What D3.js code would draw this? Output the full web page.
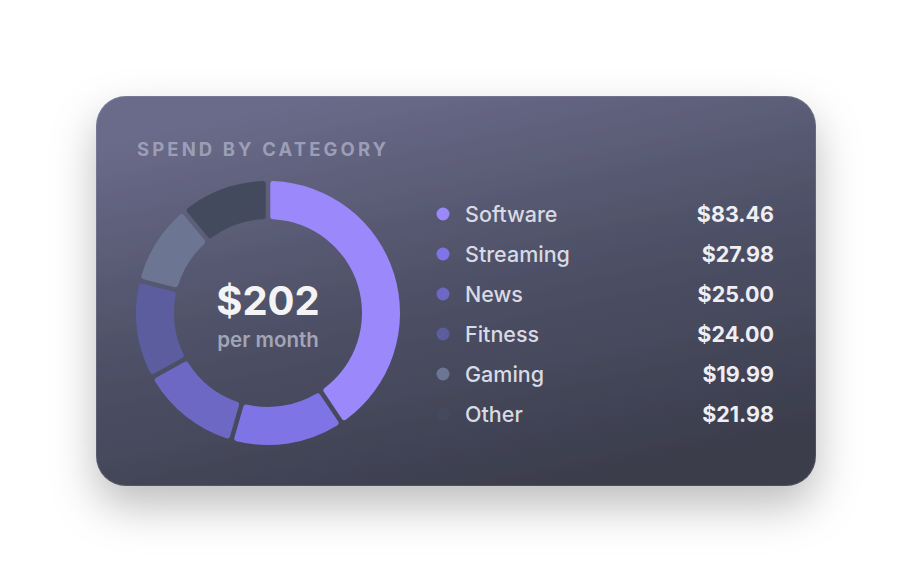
<!DOCTYPE html>
<html><head><meta charset="utf-8">
<script src="https://cdn.jsdelivr.net/npm/d3@7"></script>
<style>html,body{margin:0;padding:0;background:#ffffff;}svg{display:block;font-family:Inter,"Open Sans",sans-serif;}</style>
</head><body>
<svg id="chart" width="912" height="582"></svg>
<script>
const title = "SPEND BY CATEGORY";
const categories = ["Software","Streaming","News","Fitness","Gaming","Other"];
const values = [83.46, 27.98, 25.00, 24.00, 19.99, 21.98];
const colors = ["#9b88fa","#7f74e6","#6d68c3","#5c5d9f","#6c7693","#434a5d"];
const centerLabel = "$202";
const centerSub = "per month";

const svg = d3.select("#chart");
const defs = svg.append("defs");
const grad = defs.append("linearGradient").attr("id","cardGrad")
  .attr("x1","0.3").attr("y1","0").attr("x2","0.7").attr("y2","1");
grad.append("stop").attr("offset","0").attr("stop-color","#6a6b8a");
grad.append("stop").attr("offset","0.45").attr("stop-color","#505269");
grad.append("stop").attr("offset","1").attr("stop-color","#3a3c4b");
const f = defs.append("filter").attr("id","shadow").attr("x","-30%").attr("y","-30%").attr("width","160%").attr("height","190%");
f.append("feDropShadow").attr("dx",0).attr("dy",20).attr("stdDeviation",22).attr("flood-color","#000").attr("flood-opacity",0.26);

const card = {x:96, y:96, w:720, h:390, r:30};
svg.append("rect").attr("x",card.x).attr("y",card.y).attr("width",card.w).attr("height",card.h)
  .attr("rx",card.r).attr("fill","url(#cardGrad)").attr("filter","url(#shadow)");
svg.append("rect").attr("x",card.x+0.5).attr("y",card.y+0.5).attr("width",card.w-1).attr("height",card.h-1)
  .attr("rx",card.r).attr("fill","none").attr("stroke","rgba(255,255,255,0.10)");

svg.append("text").attr("x",137).attr("y",156).text(title)
  .attr("fill","#9c9eb5").attr("font-size",18.5).attr("font-weight",700).attr("letter-spacing",3.1);

// donut
const cx = 268, cy = 313;
const pie = d3.pie().sort(null).value(d=>d).padAngle(0.028);
const arc = d3.arc().innerRadius(94).outerRadius(132).cornerRadius(3);
const g = svg.append("g").attr("transform",`translate(${cx},${cy})`);
g.selectAll("path").data(pie(values)).join("path")
  .attr("d",arc).attr("fill",(d,i)=>colors[i]);

g.append("text").attr("text-anchor","middle").attr("y",2).text(centerLabel)
  .attr("fill","#f4f4f7").attr("font-size",40).attr("font-weight",700);
g.append("text").attr("text-anchor","middle").attr("y",34).text(centerSub)
  .attr("fill","#a3a5b7").attr("font-size",20.5).attr("font-weight",600);

// legend
const y = d3.scalePoint().domain(categories).range([214,414]);
const lg = svg.append("g");
const rows = lg.selectAll("g").data(categories).join("g")
  .attr("transform",d=>`translate(0,${y(d)})`);
rows.append("circle").attr("cx",443).attr("cy",0).attr("r",6.5).attr("fill",(d,i)=>colors[i]);
rows.append("text").attr("x",465).attr("dy","0.35em").text(d=>d)
  .attr("fill","#d9dae3").attr("font-size",21.5).attr("font-weight",500);
rows.append("text").attr("x",774).attr("dy","0.35em").attr("text-anchor","end")
  .text((d,i)=>"$"+values[i].toFixed(2))
  .attr("fill","#eeeef3").attr("font-size",21.5).attr("font-weight",700);
</script>
</body></html>
